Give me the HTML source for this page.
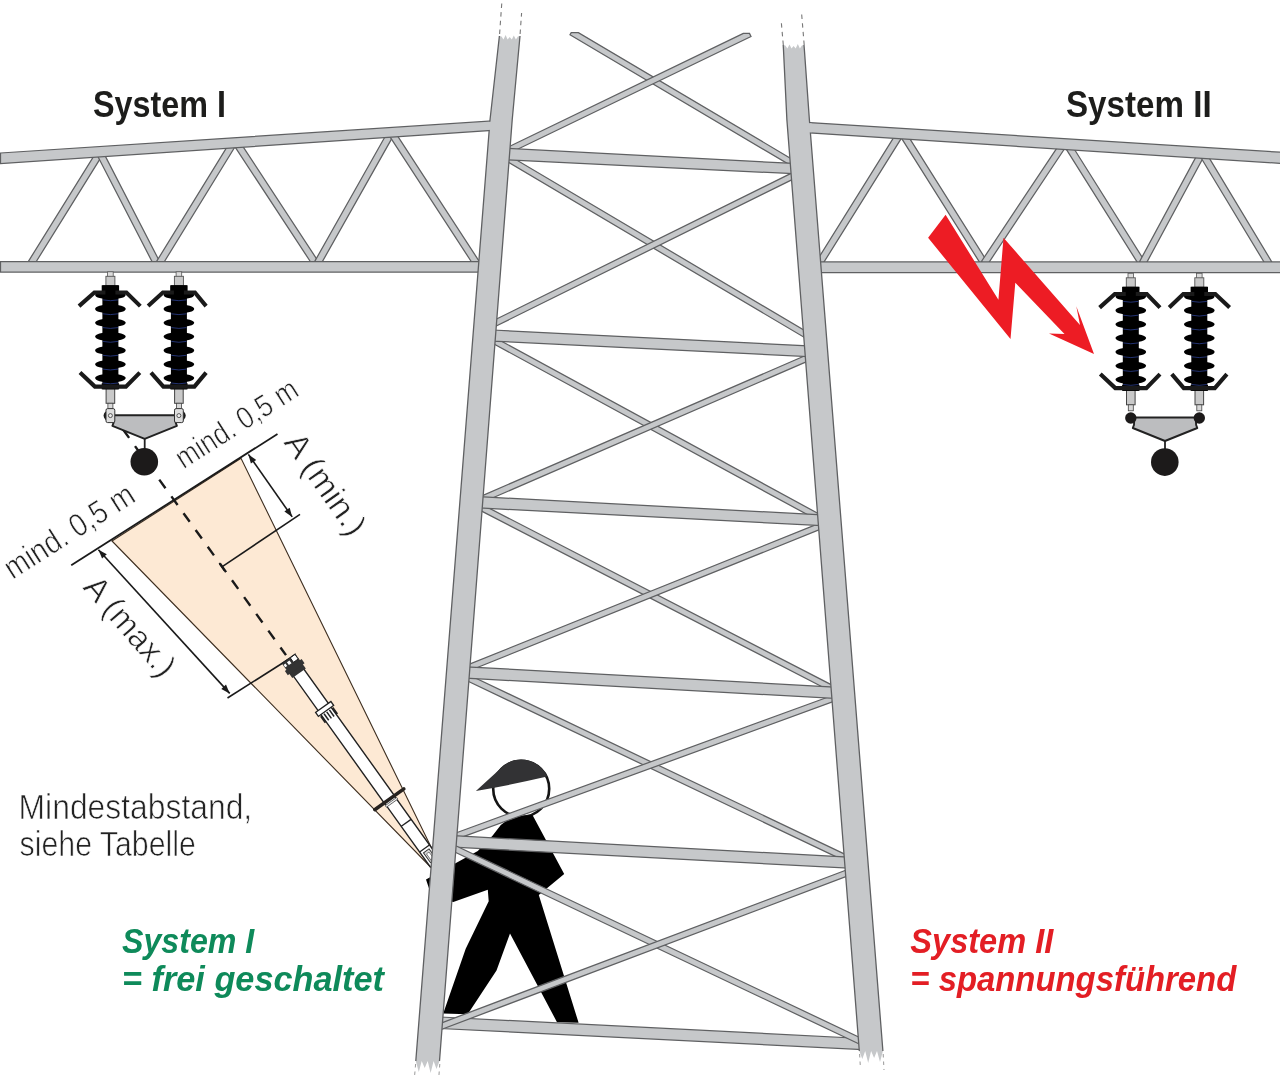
<!DOCTYPE html>
<html><head><meta charset="utf-8"><title>Diagram</title>
<style>html,body{margin:0;padding:0;background:#fff;}svg{display:block;will-change:transform;}</style></head>
<body>
<svg width="1280" height="1076" viewBox="0 0 1280 1076">
<rect width="1280" height="1076" fill="#ffffff"/>
<polygon points="112,541 241,458.3 434,853 432,868.5" fill="#fde9d4" stroke="#3d2e20" stroke-width="1.1"/>
<line x1="122.9" y1="429.3" x2="286" y2="655.1" stroke="#1a1a1a" stroke-width="2.4" stroke-dasharray="10.6 10.1"/>
<line x1="71.25" y1="565.3" x2="277.5" y2="434" stroke="#1a1a1a" stroke-width="1.8"/>
<line x1="248.4" y1="454.4" x2="292.2" y2="516.9" stroke="#1a1a1a" stroke-width="1.6"/>
<line x1="221.9" y1="566.9" x2="300" y2="514.4" stroke="#1a1a1a" stroke-width="1.6"/>
<line x1="219.3" y1="563.0" x2="224.5" y2="570.8" stroke="#1a1a1a" stroke-width="1.6"/>
<line x1="98.4" y1="549.7" x2="229.7" y2="693.4" stroke="#1a1a1a" stroke-width="1.6"/>
<line x1="227.5" y1="698" x2="289" y2="659" stroke="#1a1a1a" stroke-width="1.6"/>
<polygon points="248.4,454.4 256.2,459.9 250.9,463.6" fill="#1a1a1a" stroke="none" stroke-width="0" />
<polygon points="292.2,516.9 284.4,511.4 289.7,507.7" fill="#1a1a1a" stroke="none" stroke-width="0" />
<polygon points="98.4,549.7 106.8,554.2 102.1,558.5" fill="#1a1a1a" stroke="none" stroke-width="0" />
<polygon points="229.7,693.4 221.3,688.9 226.0,684.6" fill="#1a1a1a" stroke="none" stroke-width="0" />
<g transform="translate(288.6,658.6) rotate(54.4)">
<rect x="172" y="-6.1" width="80" height="12.2" fill="#fff" stroke="#222" stroke-width="1.4"/>
<line x1="202" y1="-6" x2="202" y2="6" stroke="#222" stroke-width="1.3"/>
<line x1="233.5" y1="-6" x2="233.5" y2="6" stroke="#222" stroke-width="1.3"/>
<rect x="236.5" y="-3.4" width="12" height="6.8" fill="#ddd" stroke="#333" stroke-width="1"/>
<rect x="239" y="-1.6" width="9" height="3.2" fill="#fff" stroke="#555" stroke-width="0.7"/>
<rect x="16" y="-6.3" width="157" height="12.6" fill="#fff" stroke="#222" stroke-width="1.4"/>
<rect x="0" y="-8.3" width="18" height="16.6" fill="#333"/>
<rect x="8" y="-10.3" width="5" height="20.6" fill="#333"/>
<rect x="0.3" y="-7.6" width="5.6" height="5.8" fill="#fff" stroke="#222" stroke-width="0.9"/>
<rect x="2" y="0.3" width="3.4" height="3.2" fill="#fff"/>
<rect x="2.2" y="5.4" width="3" height="2.4" fill="#fff"/>
<line x1="0" y1="-8.6" x2="0" y2="8.6" stroke="#222" stroke-width="1"/>
<rect x="59.5" y="-9.4" width="4.8" height="18.8" fill="#fff" stroke="#222" stroke-width="1.3"/>
<line x1="65.5" y1="-7.2" x2="73.5" y2="-7.2" stroke="#222" stroke-width="2"/>
<line x1="65.5" y1="-3.3" x2="73.5" y2="-3.3" stroke="#222" stroke-width="1.5"/>
<line x1="65.5" y1="0" x2="73.5" y2="0" stroke="#222" stroke-width="1.5"/>
<line x1="65.5" y1="3.3" x2="73.5" y2="3.3" stroke="#222" stroke-width="1.5"/>
<line x1="65.5" y1="7.2" x2="73.5" y2="7.2" stroke="#222" stroke-width="2"/>
<rect x="171.2" y="-19.6" width="3.6" height="39.2" rx="1.7" fill="#26221f"/>
<rect x="175.8" y="-7" width="2" height="14" fill="#eee" stroke="#555" stroke-width="0.8"/>
</g>
<circle cx="521.2" cy="788.8" r="28" fill="#fff" stroke="#141414" stroke-width="2.6"/>
<path d="M475.9,790.9 L495.6,773.1 C501,768.2 507,762.2 514,760.3 C521,758.4 530.3,759.6 537.5,764.8 C542.5,768.4 545.6,772.3 547.2,776.6 Q510,785.2 475.9,790.9 Z" fill="#323234"/>
<polygon points="510.9,817.2 532.5,814.9 564.2,873.9 538.8,894.9 578.6,1022.8 557.0,1022.2 510.0,933.5 496.5,970.4 467.7,1014.2 443.2,1013.6 465.7,948.8 488.7,901.3 487.8,889.8 453.3,901.9 431.9,897.0 426.0,879.4 477.8,850.9 492.7,835.6 500.8,825.0" fill="#000" stroke="none" stroke-width="0" />
<polygon points="34.1,265.0 101.6,156.4 95.8,152.8 28.4,261.4" fill="#c6c8ca" stroke="#5f6062" stroke-width="1.25" />
<polygon points="97.5,155.7 153.7,264.8 159.7,261.7 103.5,152.6" fill="#c6c8ca" stroke="#5f6062" stroke-width="1.25" />
<polygon points="162.3,265.0 234.7,147.3 228.9,143.8 156.6,261.4" fill="#c6c8ca" stroke="#5f6062" stroke-width="1.25" />
<polygon points="235.0,146.8 312.6,265.0 318.2,261.3 240.7,143.1" fill="#c6c8ca" stroke="#5f6062" stroke-width="1.25" />
<polygon points="320.5,264.9 393.0,136.4 387.1,133.0 314.6,261.6" fill="#c6c8ca" stroke="#5f6062" stroke-width="1.25" />
<polygon points="389.7,136.3 473.5,265.0 479.2,261.3 395.4,132.6" fill="#c6c8ca" stroke="#5f6062" stroke-width="1.25" />
<polygon points="822.0,265.2 901.6,137.9 895.8,134.2 816.3,261.6" fill="#c6c8ca" stroke="#5f6062" stroke-width="1.25" />
<polygon points="901.6,138.4 981.5,265.3 987.2,261.6 907.4,134.8" fill="#c6c8ca" stroke="#5f6062" stroke-width="1.25" />
<polygon points="987.0,265.3 1064.7,148.5 1059.0,144.8 981.4,261.5" fill="#c6c8ca" stroke="#5f6062" stroke-width="1.25" />
<polygon points="1066.2,149.1 1139.2,265.3 1144.9,261.6 1072.0,145.5" fill="#c6c8ca" stroke="#5f6062" stroke-width="1.25" />
<polygon points="1145.3,265.1 1203.6,157.1 1197.6,153.9 1139.4,261.9" fill="#c6c8ca" stroke="#5f6062" stroke-width="1.25" />
<polygon points="1201.0,157.7 1265.9,265.2 1271.7,261.7 1206.9,154.2" fill="#c6c8ca" stroke="#5f6062" stroke-width="1.25" />
<polygon points="0.5,153.0 492.0,121.0 492.0,130.3 0.5,163.7" fill="#c6c8ca" stroke="#5f6062" stroke-width="1.25" />
<polygon points="0.5,261.6 482.0,261.6 482.0,272.1 0.5,272.1" fill="#c6c8ca" stroke="#5f6062" stroke-width="1.25" />
<polygon points="806.0,122.3 1282.0,152.3 1282.0,163.5 806.0,132.7" fill="#c6c8ca" stroke="#5f6062" stroke-width="1.25" />
<polygon points="818.0,261.9 1282.0,261.9 1282.0,272.6 818.0,272.6" fill="#c6c8ca" stroke="#5f6062" stroke-width="1.25" />
<polygon points="570.0,34.7 792.2,166.4 795.3,161.1 578.4,32.6 571.2,32.6" fill="#c6c8ca" stroke="#5f6062" stroke-width="1.25" />
<polygon points="743.4,33.4 505.6,148.3 508.2,153.8 751.0,36.5 749.5,33.4" fill="#c6c8ca" stroke="#5f6062" stroke-width="1.25" />
<polygon points="505.5,160.6 805.3,338.0 808.4,332.7 508.6,155.3" fill="#c6c8ca" stroke="#5f6062" stroke-width="1.25" />
<polygon points="792.5,172.6 491.5,321.5 494.2,327.0 795.2,178.1" fill="#c6c8ca" stroke="#5f6062" stroke-width="1.25" />
<polygon points="490.3,342.0 819.8,521.4 822.7,516.0 493.2,336.7" fill="#c6c8ca" stroke="#5f6062" stroke-width="1.25" />
<polygon points="807.2,354.7 478.4,497.4 480.8,503.0 809.6,360.3" fill="#c6c8ca" stroke="#5f6062" stroke-width="1.25" />
<polygon points="477.3,508.9 831.2,691.5 834.0,686.1 480.1,503.5" fill="#c6c8ca" stroke="#5f6062" stroke-width="1.25" />
<polygon points="821.0,522.6 466.4,665.4 468.6,671.0 823.2,528.2" fill="#c6c8ca" stroke="#5f6062" stroke-width="1.25" />
<polygon points="464.4,679.5 846.8,861.9 849.4,856.4 467.0,674.0" fill="#c6c8ca" stroke="#5f6062" stroke-width="1.25" />
<polygon points="833.7,695.0 453.0,834.0 455.1,839.7 835.8,700.7" fill="#c6c8ca" stroke="#5f6062" stroke-width="1.25" />
<polygon points="506.5,148.4 793.3,163.4 793.3,173.7 506.5,159.9" fill="#c6c8ca" stroke="#5f6062" stroke-width="1.25" />
<polygon points="492.3,330.0 807.7,345.8 807.7,356.6 492.3,341.1" fill="#c6c8ca" stroke="#5f6062" stroke-width="1.25" />
<polygon points="479.2,496.7 821.4,514.9 821.4,525.7 479.2,507.9" fill="#c6c8ca" stroke="#5f6062" stroke-width="1.25" />
<polygon points="466.3,666.8 834.0,687.1 834.0,698.4 466.3,678.1" fill="#c6c8ca" stroke="#5f6062" stroke-width="1.25" />
<polygon points="453.7,835.7 848.2,857.1 848.2,868.2 453.7,847.1" fill="#c6c8ca" stroke="#5f6062" stroke-width="1.25" />
<polygon points="440.0,1017.0 862.4,1038.5 862.4,1049.5 440.0,1028.5" fill="#c6c8ca" stroke="#5f6062" stroke-width="1.25" />
<polygon points="452.1,850.8 861.3,1045.0 863.9,1039.5 454.7,845.3" fill="#c6c8ca" stroke="#5f6062" stroke-width="1.25" />
<polygon points="847.7,869.5 437.8,1024.3 439.9,1030.0 849.8,875.2" fill="#c6c8ca" stroke="#5f6062" stroke-width="1.25" />
<polygon points="415.8,1061.0 490.0,120.0 499.4,36.0 501.5,36.5 503.5,39.5 505.6,35.0 507.6,39.5 509.7,37.0 511.8,39.5 513.8,35.5 515.9,39.5 517.9,36.5 520.0,36.0 512.2,120.0 439.5,1061.0 436.5,1069.0 433.6,1061.0 430.6,1073.0 427.7,1061.0 424.7,1068.0 421.7,1061.0 418.8,1072.0" fill="#c6c8ca" stroke="none"/>
<polyline points="499.4,36.0 490.0,120.0 415.8,1061.0" fill="none" stroke="#5f6062" stroke-width="1.3"/>
<polyline points="520.0,36.0 512.2,120.0 439.5,1061.0" fill="none" stroke="#5f6062" stroke-width="1.3"/>
<polygon points="882.9,1051.0 809.4,120.0 804.4,50.0 804.0,45.0 801.9,45.5 799.9,48.5 797.8,44.0 795.7,48.5 793.6,46.0 791.5,48.5 789.5,44.5 787.4,48.5 785.3,45.5 783.2,45.0 783.5,50.0 786.9,120.0 859.3,1051.0 862.3,1059.0 865.2,1051.0 868.2,1063.0 871.1,1051.0 874.1,1058.0 877.0,1051.0 880.0,1062.0" fill="#c6c8ca" stroke="none"/>
<polyline points="804.0,45.0 804.4,50.0 809.4,120.0 882.9,1051.0" fill="none" stroke="#5f6062" stroke-width="1.3"/>
<polyline points="783.2,45.0 783.5,50.0 786.9,120.0 859.3,1051.0" fill="none" stroke="#5f6062" stroke-width="1.3"/>
<polygon points="488,121.9 492.5,121.6 492.5,129.8 488,130.1" fill="#c6c8ca"/>
<polygon points="806.5,123 811.5,123.3 811.5,132.5 806.5,132.2" fill="#c6c8ca"/>
<line x1="415.6" y1="1064" x2="414.6" y2="1076" stroke="#999" stroke-width="1" stroke-dasharray="3.5 4"/>
<line x1="439.8" y1="1064" x2="438.9" y2="1076" stroke="#999" stroke-width="1" stroke-dasharray="3.5 4"/>
<line x1="859.6" y1="1054" x2="860.3" y2="1066" stroke="#999" stroke-width="1" stroke-dasharray="3.5 4"/>
<line x1="883.2" y1="1054" x2="884" y2="1070" stroke="#999" stroke-width="1" stroke-dasharray="3.5 4"/>
<line x1="499.6" y1="34" x2="502" y2="0" stroke="#777" stroke-width="1.1" stroke-dasharray="4.5 4.2"/>
<line x1="520.1" y1="34" x2="521.6" y2="13" stroke="#777" stroke-width="1.1" stroke-dasharray="4.5 4.2"/>
<line x1="783.3" y1="45" x2="781.2" y2="21" stroke="#777" stroke-width="1.1" stroke-dasharray="4.5 4.2"/>
<line x1="804.2" y1="45" x2="801.4" y2="11" stroke="#777" stroke-width="1.1" stroke-dasharray="4.5 4.2"/>
<rect x="107.6" y="271.8" width="5.6" height="6" fill="#dcdcdc" stroke="#555" stroke-width="0.8"/>
<rect x="105.9" y="276.3" width="9" height="9.5" fill="#c9c9c9" stroke="#555" stroke-width="0.9"/>
<rect x="106.1" y="387.3" width="8.6" height="16" fill="#c9c9c9" stroke="#444" stroke-width="1"/>
<rect x="107.9" y="403.3" width="5" height="6" fill="#d9d9d9" stroke="#444" stroke-width="0.8"/>
<rect x="102.4" y="285.3" width="16" height="104" fill="#000"/>
<rect x="101.7" y="285.3" width="17.4" height="8" fill="#000"/>
<rect x="101.7" y="383.3" width="17.4" height="6" fill="#000"/>
<ellipse cx="110.4" cy="295.0" rx="15.3" ry="4.3" fill="#000"/>
<path d="M102.8,299.9 Q110.4,301.5 118.0,299.9" fill="none" stroke="#2b3f8f" stroke-width="0.8"/>
<ellipse cx="110.4" cy="308.9" rx="15.3" ry="4.3" fill="#000"/>
<path d="M102.8,313.8 Q110.4,315.4 118.0,313.8" fill="none" stroke="#2b3f8f" stroke-width="0.8"/>
<ellipse cx="110.4" cy="322.7" rx="15.3" ry="4.3" fill="#000"/>
<path d="M102.8,327.6 Q110.4,329.2 118.0,327.6" fill="none" stroke="#2b3f8f" stroke-width="0.8"/>
<ellipse cx="110.4" cy="336.6" rx="15.3" ry="4.3" fill="#000"/>
<path d="M102.8,341.4 Q110.4,343.1 118.0,341.4" fill="none" stroke="#2b3f8f" stroke-width="0.8"/>
<ellipse cx="110.4" cy="350.4" rx="15.3" ry="4.3" fill="#000"/>
<path d="M102.8,355.3 Q110.4,356.9 118.0,355.3" fill="none" stroke="#2b3f8f" stroke-width="0.8"/>
<ellipse cx="110.4" cy="364.2" rx="15.3" ry="4.3" fill="#000"/>
<path d="M102.8,369.1 Q110.4,370.8 118.0,369.1" fill="none" stroke="#2b3f8f" stroke-width="0.8"/>
<ellipse cx="110.4" cy="378.1" rx="15.3" ry="4.3" fill="#000"/>
<path d="M102.8,383.0 Q110.4,384.6 118.0,383.0" fill="none" stroke="#2b3f8f" stroke-width="0.8"/>
<polyline points="79.0,306.1 94.4,292.5 105.4,292.5" fill="none" stroke="#1a1a1a" stroke-width="4.1" stroke-linejoin="miter"/>
<polyline points="140.3,306.1 126.4,292.5 115.4,292.5" fill="none" stroke="#1a1a1a" stroke-width="4.1" stroke-linejoin="miter"/>
<polyline points="80.0,372.6 94.9,386.6 125.9,386.6 139.8,372.6" fill="none" stroke="#1a1a1a" stroke-width="4.1" stroke-linejoin="miter"/>
<rect x="176.1" y="271.8" width="5.6" height="6" fill="#dcdcdc" stroke="#555" stroke-width="0.8"/>
<rect x="174.4" y="276.3" width="9" height="9.5" fill="#c9c9c9" stroke="#555" stroke-width="0.9"/>
<rect x="174.6" y="387.3" width="8.6" height="16" fill="#c9c9c9" stroke="#444" stroke-width="1"/>
<rect x="176.4" y="403.3" width="5" height="6" fill="#d9d9d9" stroke="#444" stroke-width="0.8"/>
<rect x="170.9" y="285.3" width="16" height="104" fill="#000"/>
<rect x="170.2" y="285.3" width="17.4" height="8" fill="#000"/>
<rect x="170.2" y="383.3" width="17.4" height="6" fill="#000"/>
<ellipse cx="178.9" cy="295.0" rx="15.3" ry="4.3" fill="#000"/>
<path d="M171.3,299.9 Q178.9,301.5 186.5,299.9" fill="none" stroke="#2b3f8f" stroke-width="0.8"/>
<ellipse cx="178.9" cy="308.9" rx="15.3" ry="4.3" fill="#000"/>
<path d="M171.3,313.8 Q178.9,315.4 186.5,313.8" fill="none" stroke="#2b3f8f" stroke-width="0.8"/>
<ellipse cx="178.9" cy="322.7" rx="15.3" ry="4.3" fill="#000"/>
<path d="M171.3,327.6 Q178.9,329.2 186.5,327.6" fill="none" stroke="#2b3f8f" stroke-width="0.8"/>
<ellipse cx="178.9" cy="336.6" rx="15.3" ry="4.3" fill="#000"/>
<path d="M171.3,341.4 Q178.9,343.1 186.5,341.4" fill="none" stroke="#2b3f8f" stroke-width="0.8"/>
<ellipse cx="178.9" cy="350.4" rx="15.3" ry="4.3" fill="#000"/>
<path d="M171.3,355.3 Q178.9,356.9 186.5,355.3" fill="none" stroke="#2b3f8f" stroke-width="0.8"/>
<ellipse cx="178.9" cy="364.2" rx="15.3" ry="4.3" fill="#000"/>
<path d="M171.3,369.1 Q178.9,370.8 186.5,369.1" fill="none" stroke="#2b3f8f" stroke-width="0.8"/>
<ellipse cx="178.9" cy="378.1" rx="15.3" ry="4.3" fill="#000"/>
<path d="M171.3,383.0 Q178.9,384.6 186.5,383.0" fill="none" stroke="#2b3f8f" stroke-width="0.8"/>
<polyline points="148.1,306.1 162.9,292.5 173.9,292.5" fill="none" stroke="#1a1a1a" stroke-width="4.1" stroke-linejoin="miter"/>
<polyline points="206.1,306.1 194.9,292.5 183.9,292.5" fill="none" stroke="#1a1a1a" stroke-width="4.1" stroke-linejoin="miter"/>
<polyline points="151.0,372.6 163.4,386.6 194.4,386.6 206.1,372.6" fill="none" stroke="#1a1a1a" stroke-width="4.1" stroke-linejoin="miter"/>
<circle cx="108.8" cy="415.6" r="5.2" fill="#1a1a1a"/>
<circle cx="180.5" cy="415.6" r="5.2" fill="#1a1a1a"/>
<polygon points="113.9,415.3 175.4,415.3 175.7,422.6 176.9,425.8 144.7,438.8 112.4,425.8 113.6,422.6" fill="#bcbdbf" stroke="#222" stroke-width="1.9" stroke-linejoin="round"/>
<line x1="144.7" y1="438.6" x2="144.7" y2="450.6" stroke="#222" stroke-width="1.8"/>
<circle cx="144.3" cy="461.8" r="13.8" fill="#1c1a1a"/>
<rect x="106.0" y="408.6" width="8.8" height="14" rx="1.6" fill="#dedede" stroke="#333" stroke-width="1"/>
<circle cx="110.4" cy="415.6" r="2" fill="#eee" stroke="#333" stroke-width="0.8"/>
<rect x="174.5" y="408.6" width="8.8" height="14" rx="1.6" fill="#dedede" stroke="#333" stroke-width="1"/>
<circle cx="178.9" cy="415.6" r="2" fill="#eee" stroke="#333" stroke-width="0.8"/>
<rect x="1128.0" y="273.3" width="5.6" height="6" fill="#dcdcdc" stroke="#555" stroke-width="0.8"/>
<rect x="1126.3" y="277.8" width="9" height="9.5" fill="#c9c9c9" stroke="#555" stroke-width="0.9"/>
<rect x="1126.5" y="388.8" width="8.6" height="16" fill="#c9c9c9" stroke="#444" stroke-width="1"/>
<rect x="1128.3" y="404.8" width="5" height="6" fill="#d9d9d9" stroke="#444" stroke-width="0.8"/>
<rect x="1122.8" y="286.8" width="16" height="104" fill="#000"/>
<rect x="1122.1" y="286.8" width="17.4" height="8" fill="#000"/>
<rect x="1122.1" y="384.8" width="17.4" height="6" fill="#000"/>
<ellipse cx="1130.8" cy="296.5" rx="15.3" ry="4.3" fill="#000"/>
<path d="M1123.2,301.4 Q1130.8,303.0 1138.4,301.4" fill="none" stroke="#2b3f8f" stroke-width="0.8"/>
<ellipse cx="1130.8" cy="310.4" rx="15.3" ry="4.3" fill="#000"/>
<path d="M1123.2,315.2 Q1130.8,316.9 1138.4,315.2" fill="none" stroke="#2b3f8f" stroke-width="0.8"/>
<ellipse cx="1130.8" cy="324.2" rx="15.3" ry="4.3" fill="#000"/>
<path d="M1123.2,329.1 Q1130.8,330.7 1138.4,329.1" fill="none" stroke="#2b3f8f" stroke-width="0.8"/>
<ellipse cx="1130.8" cy="338.1" rx="15.3" ry="4.3" fill="#000"/>
<path d="M1123.2,342.9 Q1130.8,344.6 1138.4,342.9" fill="none" stroke="#2b3f8f" stroke-width="0.8"/>
<ellipse cx="1130.8" cy="351.9" rx="15.3" ry="4.3" fill="#000"/>
<path d="M1123.2,356.8 Q1130.8,358.4 1138.4,356.8" fill="none" stroke="#2b3f8f" stroke-width="0.8"/>
<ellipse cx="1130.8" cy="365.8" rx="15.3" ry="4.3" fill="#000"/>
<path d="M1123.2,370.6 Q1130.8,372.2 1138.4,370.6" fill="none" stroke="#2b3f8f" stroke-width="0.8"/>
<ellipse cx="1130.8" cy="379.6" rx="15.3" ry="4.3" fill="#000"/>
<path d="M1123.2,384.5 Q1130.8,386.1 1138.4,384.5" fill="none" stroke="#2b3f8f" stroke-width="0.8"/>
<polyline points="1099.6,307.6 1114.8,294.0 1125.8,294.0" fill="none" stroke="#1a1a1a" stroke-width="4.1" stroke-linejoin="miter"/>
<polyline points="1160.0,307.6 1146.8,294.0 1135.8,294.0" fill="none" stroke="#1a1a1a" stroke-width="4.1" stroke-linejoin="miter"/>
<polyline points="1100.3,374.1 1115.3,388.1 1146.3,388.1 1160.0,374.1" fill="none" stroke="#1a1a1a" stroke-width="4.1" stroke-linejoin="miter"/>
<rect x="1196.5" y="273.3" width="5.6" height="6" fill="#dcdcdc" stroke="#555" stroke-width="0.8"/>
<rect x="1194.8" y="277.8" width="9" height="9.5" fill="#c9c9c9" stroke="#555" stroke-width="0.9"/>
<rect x="1195.0" y="388.8" width="8.6" height="16" fill="#c9c9c9" stroke="#444" stroke-width="1"/>
<rect x="1196.8" y="404.8" width="5" height="6" fill="#d9d9d9" stroke="#444" stroke-width="0.8"/>
<rect x="1191.3" y="286.8" width="16" height="104" fill="#000"/>
<rect x="1190.6" y="286.8" width="17.4" height="8" fill="#000"/>
<rect x="1190.6" y="384.8" width="17.4" height="6" fill="#000"/>
<ellipse cx="1199.3" cy="296.5" rx="15.3" ry="4.3" fill="#000"/>
<path d="M1191.7,301.4 Q1199.3,303.0 1206.9,301.4" fill="none" stroke="#2b3f8f" stroke-width="0.8"/>
<ellipse cx="1199.3" cy="310.4" rx="15.3" ry="4.3" fill="#000"/>
<path d="M1191.7,315.2 Q1199.3,316.9 1206.9,315.2" fill="none" stroke="#2b3f8f" stroke-width="0.8"/>
<ellipse cx="1199.3" cy="324.2" rx="15.3" ry="4.3" fill="#000"/>
<path d="M1191.7,329.1 Q1199.3,330.7 1206.9,329.1" fill="none" stroke="#2b3f8f" stroke-width="0.8"/>
<ellipse cx="1199.3" cy="338.1" rx="15.3" ry="4.3" fill="#000"/>
<path d="M1191.7,342.9 Q1199.3,344.6 1206.9,342.9" fill="none" stroke="#2b3f8f" stroke-width="0.8"/>
<ellipse cx="1199.3" cy="351.9" rx="15.3" ry="4.3" fill="#000"/>
<path d="M1191.7,356.8 Q1199.3,358.4 1206.9,356.8" fill="none" stroke="#2b3f8f" stroke-width="0.8"/>
<ellipse cx="1199.3" cy="365.8" rx="15.3" ry="4.3" fill="#000"/>
<path d="M1191.7,370.6 Q1199.3,372.2 1206.9,370.6" fill="none" stroke="#2b3f8f" stroke-width="0.8"/>
<ellipse cx="1199.3" cy="379.6" rx="15.3" ry="4.3" fill="#000"/>
<path d="M1191.7,384.5 Q1199.3,386.1 1206.9,384.5" fill="none" stroke="#2b3f8f" stroke-width="0.8"/>
<polyline points="1169.2,307.6 1183.3,294.0 1194.3,294.0" fill="none" stroke="#1a1a1a" stroke-width="4.1" stroke-linejoin="miter"/>
<polyline points="1229.6,307.6 1215.3,294.0 1204.3,294.0" fill="none" stroke="#1a1a1a" stroke-width="4.1" stroke-linejoin="miter"/>
<polyline points="1171.8,374.1 1183.8,388.1 1214.8,388.1 1226.9,374.1" fill="none" stroke="#1a1a1a" stroke-width="4.1" stroke-linejoin="miter"/>
<polygon points="1134.3,417.5 1195.8,417.5 1196.1,424.8 1197.3,428.0 1165.0,441.0 1132.8,428.0 1134.0,424.8" fill="#bcbdbf" stroke="#222" stroke-width="1.9" stroke-linejoin="round"/>
<line x1="1165.0" y1="440.8" x2="1165.0" y2="452.8" stroke="#222" stroke-width="1.8"/>
<circle cx="1164.8" cy="462.1" r="13.8" fill="#1c1a1a"/>
<circle cx="1130.8" cy="418.0" r="5.7" fill="#1c1a1a"/>
<circle cx="1199.3" cy="418.0" r="5.7" fill="#1c1a1a"/>
<polygon points="945.6,214.8 998.4,299.7 1003.5,237.8 1080.0,325.0 1076.3,306.2 1094.0,354.0 1049.0,333.4 1064.5,334.0 1015.3,282.8 1010.5,339.0 928.1,237.8" fill="#ed1c24" stroke="none" stroke-width="0" />
<text x="93" y="117" font-family="Liberation Sans, sans-serif" font-weight="bold" font-size="37" fill="#1d1d1b" textLength="133" lengthAdjust="spacingAndGlyphs">System I</text>
<text x="1066" y="116.5" font-family="Liberation Sans, sans-serif" font-weight="bold" font-size="37" fill="#1d1d1b" textLength="145.6" lengthAdjust="spacingAndGlyphs">System II</text>
<text x="18.6" y="819.2" font-family="Liberation Sans, sans-serif" font-size="35.5" fill="#222" stroke="#fff" stroke-width="0.7" textLength="233.6" lengthAdjust="spacingAndGlyphs">Mindestabstand,</text>
<text x="19.6" y="856.3" font-family="Liberation Sans, sans-serif" font-size="35.5" fill="#222" stroke="#fff" stroke-width="0.7" textLength="176.2" lengthAdjust="spacingAndGlyphs">siehe Tabelle</text>
<text x="122" y="953" font-family="Liberation Sans, sans-serif" font-weight="bold" font-style="italic" font-size="35" fill="#0e8a5a" textLength="132.3" lengthAdjust="spacingAndGlyphs">System I</text>
<text x="122" y="990.5" font-family="Liberation Sans, sans-serif" font-weight="bold" font-style="italic" font-size="35" fill="#0e8a5a" textLength="262" lengthAdjust="spacingAndGlyphs">= frei geschaltet</text>
<text x="910.3" y="953.1" font-family="Liberation Sans, sans-serif" font-weight="bold" font-style="italic" font-size="35" fill="#e31e24" textLength="143" lengthAdjust="spacingAndGlyphs">System II</text>
<text x="910.3" y="991.2" font-family="Liberation Sans, sans-serif" font-weight="bold" font-style="italic" font-size="35" fill="#e31e24" textLength="326" lengthAdjust="spacingAndGlyphs">= spannungsführend</text>
<text transform="translate(183.5,469.5) rotate(-32.5)" font-family="Liberation Sans, sans-serif" font-size="31" fill="#222" stroke="#fff" stroke-width="0.7" textLength="139" lengthAdjust="spacingAndGlyphs">mind. 0,5 m</text>
<text transform="translate(12.5,580) rotate(-32.5)" font-family="Liberation Sans, sans-serif" font-size="32.5" fill="#222" stroke="#fff" stroke-width="0.7" textLength="148" lengthAdjust="spacingAndGlyphs">mind. 0,5 m</text>
<text transform="translate(283,442.5) rotate(55)" font-family="Liberation Sans, sans-serif" font-size="33" fill="#222" stroke="#fff" stroke-width="0.6" textLength="117" lengthAdjust="spacingAndGlyphs">A (min.)</text>
<text transform="translate(82,588) rotate(49)" font-family="Liberation Sans, sans-serif" font-size="33" fill="#222" stroke="#fff" stroke-width="0.6" textLength="121" lengthAdjust="spacingAndGlyphs">A (max.)</text>
</svg>
</body></html>
